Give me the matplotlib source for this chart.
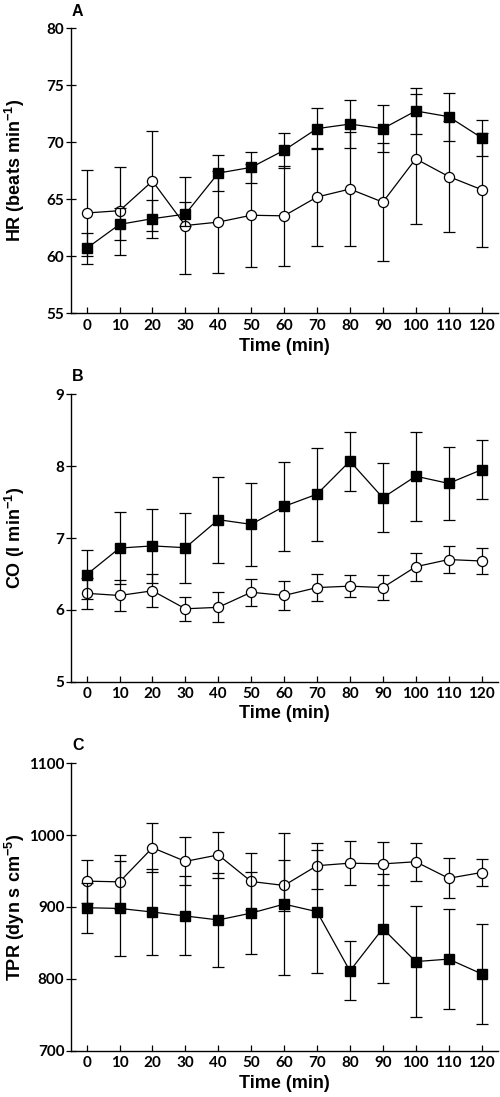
import matplotlib
matplotlib.use("Agg")
import matplotlib.pyplot as plt

# ---------------- data ----------------
time = [0, 10, 20, 30, 40, 50, 60, 70, 80, 90, 100, 110, 120]
time_ticks = [0, 10, 20, 30, 40, 50, 60, 70, 80, 90, 100, 110, 120]

hr_sq = [60.7, 62.8, 63.3, 63.7, 67.3, 67.8, 69.3, 71.2, 71.6, 71.2, 72.75, 72.25, 70.4]
hr_sq_err = [1.35, 1.4, 1.67, 1.08, 1.56, 1.37, 1.55, 1.81, 2.1, 2.03, 2.05, 2.11, 1.6]
hr_ci = [63.8, 64.0, 66.6, 62.7, 63.0, 63.6, 63.55, 65.2, 65.9, 64.75, 68.55, 67.0, 65.85]
hr_ci_err = [3.74, 3.86, 4.42, 4.28, 4.45, 4.5, 4.39, 4.29, 5.0, 5.2, 5.7, 4.89, 5.0]
hr_ticks = [55, 60, 65, 70, 75, 80]

co_sq = [6.49, 6.86, 6.89, 6.865, 7.255, 7.19, 7.44, 7.61, 8.07, 7.56, 7.86, 7.76, 7.95]
co_sq_err = [0.345, 0.5, 0.51, 0.485, 0.6, 0.58, 0.62, 0.645, 0.41, 0.48, 0.62, 0.51, 0.41]
co_ci = [6.23, 6.20, 6.265, 6.015, 6.035, 6.245, 6.20, 6.31, 6.33, 6.31, 6.60, 6.70, 6.68]
co_ci_err = [0.22, 0.21, 0.23, 0.17, 0.21, 0.19, 0.20, 0.19, 0.155, 0.17, 0.195, 0.19, 0.18]
co_ticks = [5, 6, 7, 8, 9]

tpr_sq = [899, 898, 893, 887.5, 882, 891.5, 904, 893.5, 811, 870, 824, 827.5, 807]
tpr_sq_err = [35, 66, 59.5, 55, 65.5, 57, 99, 86, 41, 76, 77, 69.5, 70]
tpr_ci = [936, 935, 982.5, 963.5, 972.5, 935.5, 930, 957.5, 961, 960, 963, 940, 948]
tpr_ci_err = [30, 38, 34.3, 33.5, 32.5, 40, 35, 32, 31, 30, 26.5, 27.8, 19]
tpr_ticks = [700, 800, 900, 1000, 1100]

panel_letters = ["A", "B", "C"]
ylabels = ["HR (beats min$^{\\mathbf{-1}}$)", "CO (l min$^{\\mathbf{-1}}$)",
           "TPR (dyn s cm$^{\\mathbf{-5}}$)"]
xlabel = "Time (min)"

# ---------------- figure ----------------
W, H = 500, 1097
fig = plt.figure(figsize=(W / 100, H / 100), dpi=100)
plt.rcParams["mathtext.fontset"] = "custom"
plt.rcParams["mathtext.bf"] = "Liberation Sans:bold"
plt.rcParams["mathtext.rm"] = "Liberation Sans:bold"

label_font = dict(family="Liberation Sans", weight="bold", size=13)
tick_font = dict(family="Lato", weight="bold", size=11)

# (bottom_px, top_px) of the y-axis span for each panel
spans = [(313.3, 28.3), (681.7, 394.3), (1050.7, 763.3)]
letter_y = [11.3, 376.7, 745.3]
xlabel_y = [346.0, 714.0, 1084.0]
left_px, right_px = 70.7, 498.0

datasets = [
    (hr_sq, hr_sq_err, hr_ci, hr_ci_err, hr_ticks),
    (co_sq, co_sq_err, co_ci, co_ci_err, co_ticks),
    (tpr_sq, tpr_sq_err, tpr_ci, tpr_ci_err, tpr_ticks),
]

for i, ((bpx, tpx), (sq, sqe, ci, cie, yt)) in enumerate(zip(spans, datasets)):
    hpx = bpx - tpx
    ax = fig.add_axes([left_px / W, 1 - bpx / H, (right_px - left_px) / W, hpx / H])
    ax.errorbar(time, ci, yerr=cie, fmt="-o", color="black", mfc="white", mec="black",
                ms=7.3, mew=0.9, lw=0.9, elinewidth=0.9, capsize=4, capthick=0.9, zorder=3)
    ax.errorbar(time, sq, yerr=sqe, fmt="-s", color="black", mfc="black", mec="black",
                ms=6.6, lw=0.9, elinewidth=0.9, capsize=4, capthick=0.9, zorder=4)
    ax.set_xlim(-4.85, 125)
    ax.set_ylim(yt[0], yt[-1])
    ax.set_xticks(time_ticks)
    ax.set_yticks(yt)
    ax.set_xticklabels([str(t) for t in time_ticks], fontdict=tick_font)
    ax.set_yticklabels([str(v) for v in yt], fontdict=tick_font)
    ax.tick_params(axis="x", direction="in", length=4.5, width=0.9, pad=4)
    ax.tick_params(axis="y", direction="inout", length=7, width=0.9, pad=1)
    for s in ["top", "right"]:
        ax.spines[s].set_visible(False)
    for s in ["left", "bottom"]:
        ax.spines[s].set_linewidth(1.0)
    ax.set_ylabel(ylabels[i], fontdict=label_font)
    ax.yaxis.set_label_coords(-(left_px - 27) / (right_px - left_px), 0.5)
    ax.set_xlabel(xlabel, fontdict=label_font)
    ax.xaxis.set_label_coords(0.5, -(xlabel_y[i] - bpx) / hpx)
    ax.xaxis.label.set_va("center")
    fig.text(72 / W, 1 - letter_y[i] / H, panel_letters[i], ha="left", va="center",
             family="Liberation Sans", weight="bold", size=11.5)

fig.savefig("out.png", dpi=100)
